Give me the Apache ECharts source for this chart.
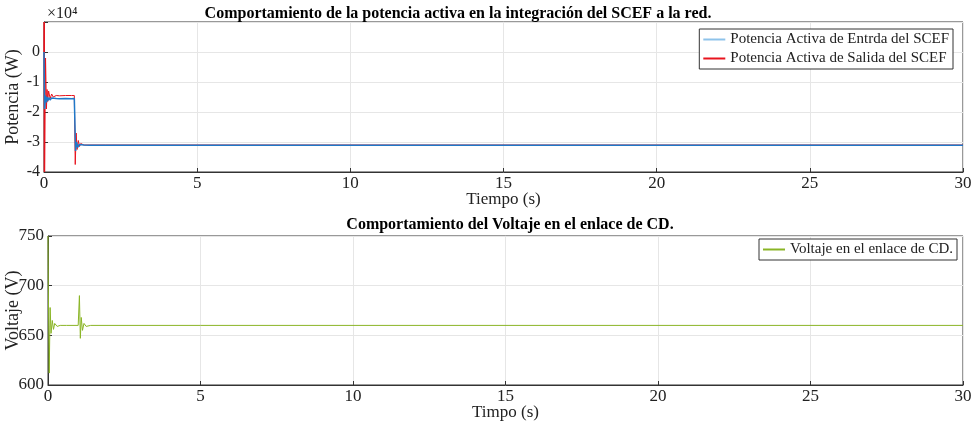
<!DOCTYPE html>
<html><head><meta charset="utf-8">
<script src="https://cdn.jsdelivr.net/npm/echarts@6/dist/echarts.min.js"></script>
<style>body{margin:0}#c{width:972px;height:431px}</style></head>
<body><div id="c"></div>
<script>
// Time stamps (s) and values
const tIn  = [0,0.02,0.05,0.08,0.1,0.13,0.16,0.2,0.25,0.3,0.4,0.5,0.7,0.9,0.99,1.0,1.03,1.06,1.1,1.15,1.2,1.3,1.5,2,5,10,20,30];
const pIn  = [0,-19000,-14500,-16800,-15000,-16200,-15200,-16000,-15300,-15800,-15500,-15600,-15500,-15600,-15500,-15500,-33000,-30000,-31800,-30800,-31300,-31000,-31100,-31100,-31100,-31100,-31100,-31100];
const tOut = [0,0.005,0.01,0.015,0.02,0.05,0.08,0.1,0.12,0.15,0.2,0.25,0.3,0.4,0.5,0.7,0.9,0.99,1.0,1.02,1.05,1.08,1.12,1.16,1.2,1.3,1.5,2,5,10,20,30];
const pOut = [0,10000,-40000,10000,-40000,-2000,-19000,-12500,-16500,-13000,-15500,-14000,-15000,-14500,-14600,-14500,-14500,-14500,-14500,-37500,-27000,-32500,-29500,-31500,-30500,-31000,-31000,-31000,-31000,-31000,-31000,-31000];
const tV = [0,0.01,0.04,0.07,0.1,0.14,0.18,0.22,0.3,0.4,0.6,0.99,1.0,1.03,1.06,1.09,1.13,1.18,1.25,1.4,2,5,10,20,30];
const vDC = [750,700,612,678,652,665,656,662,659,660,660,660,660,690,647,668,655,662,659,660,660,660,660,660,660];

const zip = (a,b)=>a.map((t,i)=>[t,b[i]]);
const font = 'Liberation Serif';
const axX = (gi,name)=>({gridIndex:gi,type:'value',min:0,max:30,interval:5,name:name,nameLocation:'middle',nameGap:19,nameMoveOverlap:false,
  nameTextStyle:{fontFamily:font,fontSize:17,color:'#222'},
  axisLine:{onZero:false,lineStyle:{color:'#333'}},axisTick:{inside:true,length:4,lineStyle:{color:'#333'}},
  axisLabel:{fontFamily:font,fontSize:17,color:'#222',margin:3},
  splitLine:{lineStyle:{color:'#e6e6e6'}}});
const legendText = {fontFamily:font,fontSize:15,color:'#222'};
const chart = echarts.init(document.getElementById('c'));
chart.setOption({
  animation:false,
  title:[
    {text:'Comportamiento de la potencia activa en la integración del SCEF a la red.',left:453,top:1,textAlign:'center',textStyle:{fontFamily:font,fontSize:16,fontWeight:'bold',color:'#000'}},
    {text:'Comportamiento del Voltaje en el enlace de CD.',left:505,top:212,textAlign:'center',textStyle:{fontFamily:font,fontSize:16,fontWeight:'bold',color:'#000'}},
    {text:'×10⁴',left:42,top:1,textStyle:{fontFamily:font,fontSize:16,fontWeight:'normal',color:'#222'}}
  ],
  grid:[
    {left:44,right:9,top:22,height:150,show:true,borderColor:'#333',borderWidth:1,outerBoundsMode:'none',containLabel:false},
    {left:48,right:9,top:236,height:149,show:true,borderColor:'#333',borderWidth:1,outerBoundsMode:'none',containLabel:false}
  ],
  legend:[
    {data:['Potencia Activa de Entrda del SCEF','Potencia Activa de Salida del SCEF'],orient:'vertical',right:19,top:29,itemWidth:22,itemHeight:2,itemGap:4,
     backgroundColor:'#fff',borderColor:'#333',borderWidth:1,padding:[3,4],textStyle:legendText,icon:'rect'},
    {data:['Voltaje en el enlace de CD.'],right:15,top:239,itemWidth:22,itemHeight:2,
     backgroundColor:'#fff',borderColor:'#333',borderWidth:1,padding:[3,4],textStyle:legendText,icon:'rect'}
  ],
  xAxis:[axX(0,'Tiempo (s)'),axX(1,'Timpo (s)')],
  yAxis:[
    {gridIndex:0,type:'value',min:-40000,max:10000,interval:10000,name:'Potencia (W)',nameLocation:'middle',nameGap:22,nameMoveOverlap:false,
     nameTextStyle:{fontFamily:font,fontSize:18,color:'#222'},
     axisLine:{show:true,onZero:false,lineStyle:{color:'#333'}},axisTick:{inside:true,length:4},
     axisLabel:{fontFamily:font,fontSize:16,color:'#222',margin:4,formatter:v=>v>=10000?'':String(v/10000)},
     splitLine:{lineStyle:{color:'#e6e6e6'}}},
    {gridIndex:1,type:'value',min:600,max:750,interval:50,name:'Voltaje (V)',nameLocation:'middle',nameGap:26,nameMoveOverlap:false,
     nameTextStyle:{fontFamily:font,fontSize:18,color:'#222'},
     axisLine:{show:true,onZero:false,lineStyle:{color:'#333'}},axisTick:{inside:true,length:4},
     axisLabel:{fontFamily:font,fontSize:17,color:'#222',margin:4},
     splitLine:{lineStyle:{color:'#e6e6e6'}}}
  ],
  series:[
    {name:'Potencia Activa de Salida del SCEF',type:'line',xAxisIndex:0,yAxisIndex:0,data:zip(tOut,pOut),showSymbol:false,lineStyle:{color:'#e8141e',width:1},itemStyle:{color:'#e8141e'},clip:true},
    {name:'Potencia Activa de Entrda del SCEF',type:'line',xAxisIndex:0,yAxisIndex:0,data:zip(tIn,pIn),showSymbol:false,lineStyle:{color:'#1f78c8',width:1.5},itemStyle:{color:'#8ec3ea'},clip:true},
    {name:'Voltaje en el enlace de CD.',type:'line',xAxisIndex:1,yAxisIndex:1,data:zip(tV,vDC),showSymbol:false,lineStyle:{color:'#8ab526',width:1},itemStyle:{color:'#8ab526'},clip:true}
  ]
});
</script></body></html>
